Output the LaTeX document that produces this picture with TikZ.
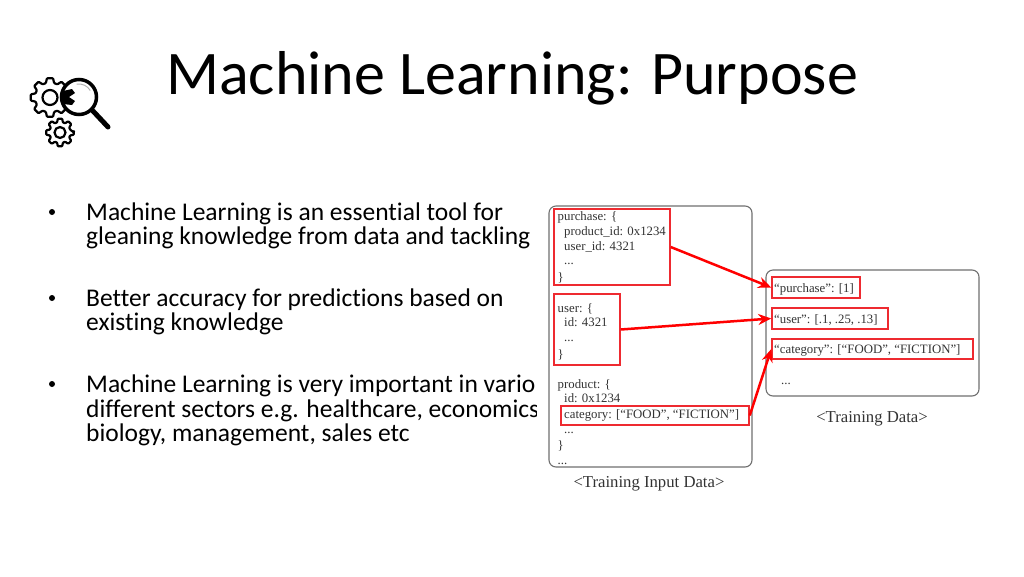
\documentclass[tikz,border=0pt]{standalone}
\usepackage{fontspec}
\setmainfont[Ligatures=CommonOff]{Carlito}
\newfontfamily\figfont{Liberation Serif}
\usetikzlibrary{arrows.meta}
\definecolor{figtext}{HTML}{333333}
\definecolor{framegray}{HTML}{707070}
\definecolor{hlred}{HTML}{EE2A30}
\newcommand{\gearshape}[5]{%
  \begin{scope}[shift={(#1,#2)}]
    \draw[line width=2.2pt,fill=white,rounded corners=0.8pt,line join=round]
      (0:#3) \foreach \a in {0,45,...,315} {
        -- (\a-9:#3) -- (\a+9:#3) -- (\a+16:#4) -- (\a+29:#4)
      } -- cycle;
    \draw[line width=2.2pt] (0,0) circle (#5);
  \end{scope}}
\tikzset{
  x=1pt,y=-1pt,
  titletext/.style={anchor=base west,inner sep=0pt,font=\fontsize{62}{62}\selectfont,text=black},
  bodytext/.style={anchor=base west,inner sep=0pt,font=\fontsize{25.5}{25.5}\selectfont,text=black},
  bulletmark/.style={circle,fill=black,inner sep=0pt,minimum size=6pt},
  figline/.style={anchor=base west,inner sep=0pt,font=\figfont\fontsize{12.8}{12.8}\selectfont,text=figtext},
  figcaption/.style={anchor=base,inner sep=0pt,font=\figfont\fontsize{16.7}{16.7}\selectfont,text=figtext},
  framebox/.style={draw=framegray,line width=1.1pt,rounded corners=7pt,fill=white},
  hlbox/.style={draw=hlred,line width=1.5pt,inner sep=0pt,rectangle},
  hlarrow/.style={draw=red,line width=2.5pt,-{Stealth[length=13pt,width=11pt]}},
}
\begin{document}
\begin{tikzpicture}
\useasboundingbox (0,0) rectangle (1024,576);
\fill[white] (0,0) rectangle (1024,576);

\node[titletext] (title) at (166,94) {Machine Learning: Purpose};

% icon
\gearshape{50}{97.5}{19.5}{15}{7.5}
\gearshape{60}{132.5}{14}{10.5}{5.5}
\draw[line width=3.5pt,fill=white] (79,97) circle (17.5);
\fill[black] (63,91) -- (72,89) -- (75,93) -- (69,97) -- (75,101) -- (72,105) -- (63,104) -- cycle;
\draw[line width=1pt,gray!60] (79,97) ++(-30:13) arc (-30:-100:13);
\draw[line width=5pt,line cap=round] (93,111) -- (108,127);

% bullets
\foreach \n/\y in {b1/212,b2/298,b3/384}{
  \node[bulletmark] (\n) at (52,\y) {};
}
\begin{scope}
\clip (0,0) rectangle (536,576);
\node[bodytext] (l1) at (86,220) {Machine Learning is an essential tool for};
\node[bodytext] (l2) at (86,244) {gleaning knowledge from data and tackling};
\node[bodytext] (l3) at (86,306) {Better accuracy for predictions based on};
\node[bodytext] (l4) at (86,330) {existing knowledge};
\node[bodytext] (l5) at (86,392) {Machine Learning is very important in vario};
\node[bodytext] (l6) at (86,417) {different sectors e.g. healthcare, economics};
\node[bodytext] (l7) at (86,441) {biology, management, sales etc};
\end{scope}

% frames
\draw[framebox] (549,206) rectangle (752,467);
\draw[framebox] (766,270) rectangle (979,396);

% left text
\node[figline] (p1) at (557.5,220) {purchase: \{};
\node[figline] (p2) at (564,235) {product\_id: 0x1234};
\node[figline] (p3) at (564,250) {user\_id: 4321};
\node[figline] (p4) at (564,264) {...};
\node[figline] (p5) at (557.5,281) {\}};
\node[figline] (u1) at (557.5,312) {user: \{};
\node[figline] (u2) at (564,326) {id: 4321};
\node[figline] (u3) at (564,341) {...};
\node[figline] (u4) at (557.5,358) {\}};
\node[figline] (c1) at (557.5,388) {product: \{};
\node[figline] (c2) at (564,402) {id: 0x1234};
\node[figline] (c3) at (564,418) {category: [“FOOD”, “FICTION”]};
\node[figline] (c4) at (564,433) {...};
\node[figline] (c5) at (557.5,449) {\}};
\node[figline] (c6) at (557.5,464) {...};

% right text
\node[figline] (r1) at (774,292) {“purchase”: [1]};
\node[figline] (r2) at (774,323) {“user”: [.1, .25, .13]};
\node[figline] (r3) at (774,353) {“category”: [“FOOD”, “FICTION”]};
\node[figline] (r4) at (781,384) {...};

\node[figcaption] (capl) at (649,487) {<Training Input Data>};
\node[figcaption] (capr) at (872,422) {<Training Data>};

% highlight boxes
\node[hlbox,minimum width=116pt,minimum height=76pt] (hp) at (612,247) {};
\node[hlbox,minimum width=66pt,minimum height=71pt] (hu) at (587,329.5) {};
\node[hlbox,minimum width=188pt,minimum height=19pt] (hc) at (655,415.5) {};
\node[hlbox,minimum width=88pt,minimum height=21pt] (rp) at (816,287.5) {};
\node[hlbox,minimum width=116pt,minimum height=21pt] (ru) at (830,318.5) {};
\node[hlbox,minimum width=201pt,minimum height=20pt] (rc) at (872.5,349) {};

% connectors
\draw[hlarrow] (hp.east) -- (rp.west);
\draw[hlarrow] (hu.east) -- (ru.west);
\draw[hlarrow] (hc.east) -- (rc.west);
\end{tikzpicture}
\end{document}
